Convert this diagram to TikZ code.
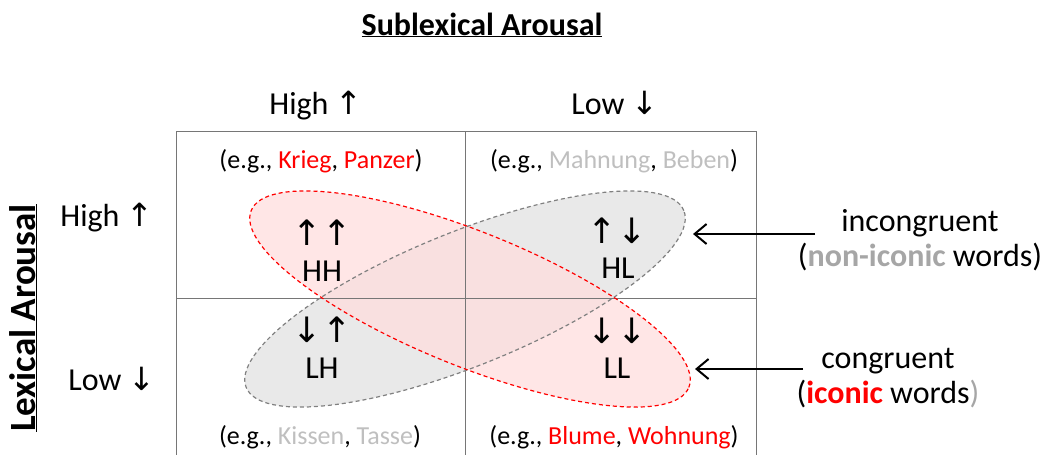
\documentclass[tikz,border=0pt]{standalone}
\usepackage{fontspec}
\setmainfont{Carlito}
\newfontfamily\arrowfont{DejaVu Sans}
\usepackage{xcolor}
\usetikzlibrary{arrows.meta}

\definecolor{gridgray}{RGB}{118,118,118}
\definecolor{wordgray}{RGB}{191,191,191}
\definecolor{icongray}{RGB}{166,166,166}
\definecolor{ringgray}{RGB}{128,128,128}
\definecolor{wordred}{RGB}{255,0,0}

\newcommand{\up}{{\arrowfont\char"2191}}
\newcommand{\down}{{\arrowfont\char"2193}}

\begin{document}
\begin{tikzpicture}[x=1pt, y=-1pt,
    every node/.style = {inner sep=0pt, anchor=base},
    big/.style = {font=\fontsize{32}{38}\selectfont},
    axis/.style = {font=\fontsize{37}{42}\selectfont\bfseries},
    example/.style = {font=\fontsize{26}{30}\selectfont},
    pair/.style = {font=\fontsize{35}{40}\selectfont},
    side/.style = {font=\fontsize{32}{35}\selectfont, align=center, anchor=center},
    ring/.style = {dashed, dash pattern=on 4pt off 3pt, line width=1.2pt},
    pointer/.style = {-{Straight Barb[length=12pt,width=20pt]}, line width=2pt}]
  \useasboundingbox (0,0) rectangle (1047,455);

  % the two ellipses
  \fill[gray!17, shift={(465,299)}, rotate=22]
    (0,0) ellipse [x radius=236pt, y radius=67pt];
  \fill[red!13, fill opacity=0.75, shift={(470,299)}, rotate=-22]
    (0,0) ellipse [x radius=236pt, y radius=67pt];

  % grid
  \draw[gridgray, line width=1pt] (176,455) -- (176,131) -- (756,131) -- (756,455);
  \draw[gridgray, line width=1pt] (465,131) -- (465,455);
  \draw[gridgray, line width=1pt] (176,298) -- (756,298);

  \draw[ring, ringgray, shift={(465,299)}, rotate=22]
    (0,0) ellipse [x radius=236pt, y radius=67pt];
  \draw[ring, red, shift={(470,299)}, rotate=-22]
    (0,0) ellipse [x radius=236pt, y radius=67pt];

  % axis labels
  \node[big] (title) at (482,35) {\underline{\textbf{Sublexical Arousal}}};
  \node[big] (subhigh) at (316,114) {High \up};
  \node[big] (sublow) at (615,114) {Low \down};
  \node[axis, rotate=90] (lexlabel) at (35,318) {\underline{Lexical Arousal}};
  \node[big] (lexhigh) at (107,226) {High \up};
  \node[big] (lexlow) at (112,390) {Low \down};

  % example words
  \node[example] (exHH) at (321,168) {(e.g., \textcolor{wordred}{Krieg}, \textcolor{wordred}{Panzer})};
  \node[example] (exHL) at (614,168) {(e.g., \textcolor{wordgray}{Mahnung}, \textcolor{wordgray}{Beben})};
  \node[example] (exLH) at (320,444) {(e.g., \textcolor{wordgray}{Kissen}, \textcolor{wordgray}{Tasse})};
  \node[example] (exLL) at (614,444) {(e.g., \textcolor{wordred}{Blume}, \textcolor{wordred}{Wohnung})};

  % cells
  \node[pair] (arrHH) at (322,245) {\up\up};
  \node[big] (HH) at (322,281) {HH};
  \node[pair] (arrHL) at (617,243) {\up\down};
  \node[big] (HL) at (618,278) {HL};
  \node[pair] (arrLH) at (322,342) {\down\up};
  \node[big] (LH) at (322,378) {LH};
  \node[pair] (arrLL) at (617,343) {\down\down};
  \node[big] (LL) at (617,378) {LL};

  % right labels
  \node[side] (incong) at (920,240) {incongruent\\(\textcolor{icongray}{\textbf{non-iconic}} words)};
  \node[side] (cong) at (888,378) {congruent\\(\textcolor{wordred}{\textbf{iconic}} words\textcolor{icongray}{)}};

  \coordinate (incongfrom) at (815,234);
  \coordinate (incongto) at (693,234);
  \coordinate (congfrom) at (803,369);
  \coordinate (congto) at (695,369);
  \draw[pointer] (incongfrom) -- (incongto);
  \draw[pointer] (congfrom) -- (congto);
\end{tikzpicture}
\end{document}
